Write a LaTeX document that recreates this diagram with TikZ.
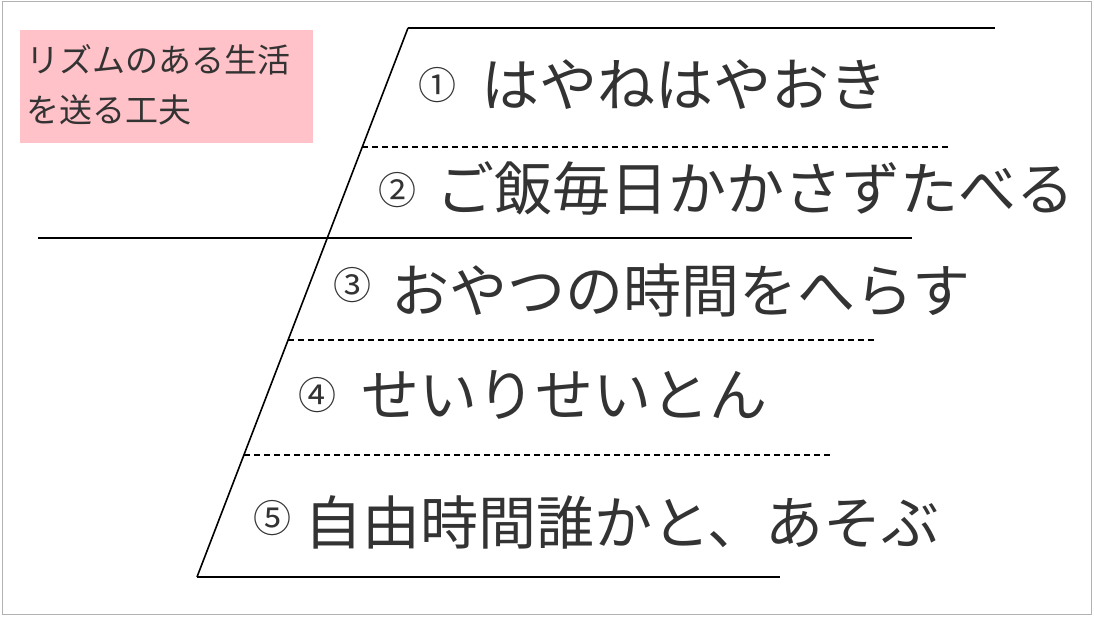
\documentclass[tikz,border=0pt]{standalone}
\usepackage{fontspec}
\newfontfamily\cjk{Noto Sans CJK JP}
\definecolor{txt}{HTML}{333333}
\definecolor{pinkbox}{HTML}{FFC2C8}
\begin{document}
\begin{tikzpicture}[x=1pt,y=-1pt,
  ln/.style={line width=1.6pt,black},
  dl/.style={line width=1.2pt,black,dash pattern=on 6pt off 4pt},
  big/.style={anchor=west,inner sep=0pt,font=\cjk\fontsize{58}{62}\selectfont,text=txt},
  num/.style={anchor=west,inner sep=0pt,font=\cjk\fontsize{38}{40}\selectfont,text=txt}]
\useasboundingbox (0,0) rectangle (1094,617);
\draw[gray!60,line width=1pt] (2,2) rectangle (1091,614);
\fill[pinkbox] (20,30) rectangle (313,143);
\node[anchor=west,inner sep=0pt,font=\cjk\fontsize{33}{50}\selectfont,text=txt,align=left] (title) at (26,85) {リズムのある生活\\を送る工夫};
\coordinate (t) at (408,28);
\coordinate (b) at (197,577);
\draw[ln] (t) -- (b);
\draw[ln] (t) -- (995,28);
\draw[ln] (b) -- (780,577);
\draw[ln] (38,238) -- (912,238);
\draw[dl] (362,147) -- (950,147);
\draw[dl] (288,340) -- (875,340);
\draw[dl] (244,455) -- (830,455);
\node[num] (n1) at (418,85) {①};
\node[big] (l1) at (481,85) {はやねはやおき};
\node[num] (n2) at (378,190) {②};
\node[big] (l2) at (436,188) {ご飯毎日かかさずたべる};
\node[num] (n3) at (333,285) {③};
\node[big] (l3) at (391,290) {おやつの時間をへらす};
\node[num] (n4) at (298,395) {④};
\node[big] (l4) at (361,395) {せいりせいとん};
\node[num] (n5) at (253,518) {⑤};
\node[big] (l5) at (304,522) {自由時間誰かと、あそぶ};
\end{tikzpicture}
\end{document}
